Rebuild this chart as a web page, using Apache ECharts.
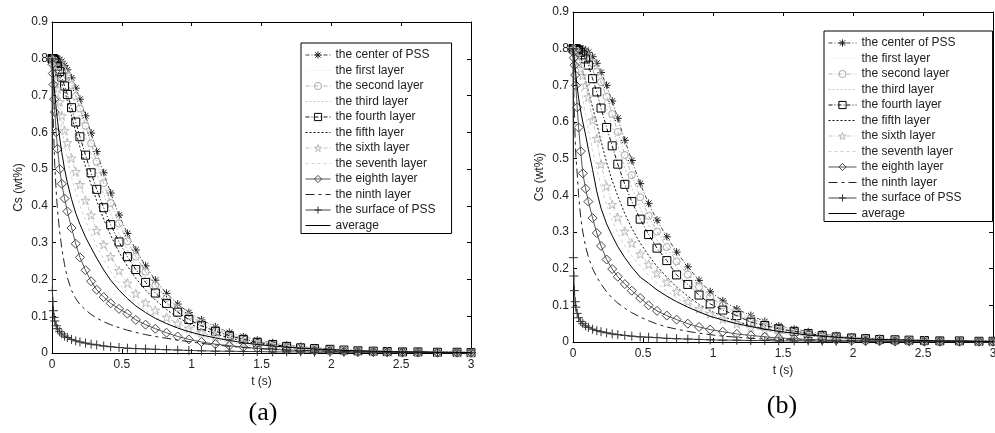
<!DOCTYPE html>
<html>
<head>
<meta charset="utf-8">
<title>Cs (wt%) against t (s)</title>
<script src="https://cdn.jsdelivr.net/npm/echarts@6/dist/echarts.min.js"></script>
<style>
  html, body { margin: 0; padding: 0; background: #fff; }
  #chart { width: 995px; height: 433px; }
</style>
</head>
<body>
<div id="chart"></div>
<script>
// time steps (s), shared by every curve of both panels
const tSteps = [0, 0.003, 0.006, 0.01, 0.015, 0.02, 0.03, 0.04, 0.055, 0.07, 0.09, 0.11,
  0.14, 0.17, 0.2, 0.24, 0.28, 0.32, 0.37, 0.42, 0.48, 0.54, 0.6, 0.67,
  0.74, 0.82, 0.9, 0.98, 1.07, 1.17, 1.27, 1.37, 1.47, 1.58, 1.68, 1.78,
  1.88, 1.99, 2.09, 2.19, 2.3, 2.4, 2.51, 2.62, 2.76, 2.9, 3.0];

const xTicks = [0, 0.5, 1, 1.5, 2, 2.5, 3];
const yTicks = [0, 0.1, 0.2, 0.3, 0.4, 0.5, 0.6, 0.7, 0.8, 0.9];

const layerNames = ['the center of PSS', 'the first layer', 'the second layer', 'the third layer',
  'the fourth layer', 'the fifth layer', 'the sixth layer', 'the seventh layer',
  'the eighth layer', 'the ninth layer', 'the surface of PSS', 'average'];

// panel (a), Cs in wt%
const aCenter = [.8, .8, .8, .8, .8, .8, .8, .8, .798, .793, .782, .77,
  .748, .72, .69, .645, .598, .548, .49, .435, .375, .325, .28, .237,
  .198, .162, .133, .11, .09, .071, .056, .044, .035, .028, .022, .018,
  .014, .011, .009, .007, .006, .005, .004, .003, .003, .002, .002];
const aFirst = [.8, .8, .8, .8, .8, .8, .8, .799, .796, .79, .778, .764,
  .74, .71, .678, .632, .584, .534, .476, .422, .364, .315, .271, .229,
  .191, .156, .128, .106, .087, .069, .054, .043, .034, .027, .021, .017,
  .013, .011, .009, .007, .006, .005, .004, .003, .003, .002, .002];
const aSecond = [.8, .8, .8, .8, .8, .8, .799, .797, .792, .785, .77, .754,
  .728, .698, .665, .618, .57, .52, .462, .408, .352, .304, .262, .221,
  .184, .15, .123, .101, .082, .065, .051, .04, .032, .025, .02, .016,
  .012, .01, .008, .007, .005, .004, .004, .003, .002, .002, .002];
const aThird = [.8, .8, .8, .8, .8, .799, .797, .793, .785, .774, .756, .736,
  .705, .672, .637, .588, .54, .49, .432, .38, .325, .279, .239, .201,
  .168, .138, .114, .094, .078, .062, .049, .039, .031, .024, .019, .015,
  .011, .009, .007, .006, .005, .004, .003, .003, .002, .002, .001];
const aFourth = [.8, .8, .8, .8, .799, .797, .79, .78, .765, .75, .726, .703,
  .667, .628, .588, .538, .49, .445, .395, .349, .302, .262, .227, .192,
  .163, .135, .111, .091, .074, .059, .047, .037, .029, .023, .018, .014,
  .012, .01, .008, .006, .005, .004, .003, .003, .002, .002, .001];
const aFifth = [.8, .8, .8, .8, .798, .795, .785, .772, .752, .732, .712, .686,
  .645, .602, .56, .507, .458, .414, .364, .32, .274, .236, .203, .171,
  .144, .118, .097, .08, .065, .052, .041, .032, .026, .02, .016, .013,
  .01, .008, .007, .005, .004, .004, .003, .002, .002, .001, .001];
const aSixth = [.8, .8, .798, .793, .783, .77, .742, .718, .683, .645, .605, .572,
  .53, .493, .458, .415, .375, .333, .295, .262, .224, .19, .162, .137,
  .116, .097, .081, .067, .055, .044, .035, .028, .022, .017, .014, .011,
  .009, .007, .006, .005, .004, .003, .003, .002, .002, .001, .001];
const aSeventh = [.8, .8, .795, .785, .77, .755, .722, .692, .65, .612, .567, .528,
  .478, .437, .402, .36, .323, .29, .254, .222, .19, .162, .139, .117,
  .098, .081, .067, .056, .045, .036, .029, .023, .018, .014, .011, .009,
  .007, .006, .005, .004, .003, .003, .002, .002, .001, .001, .001];
const aEighth = [.8, .785, .76, .73, .69, .655, .6, .555, .5, .46, .42, .385,
  .34, .297, .26, .225, .195, .172, .152, .135, .12, .107, .09, .077,
  .066, .055, .045, .037, .03, .024, .02, .016, .013, .01, .008, .007,
  .006, .005, .004, .003, .003, .002, .002, .002, .001, .001, .001];
const aNinth = [.8, .74, .68, .62, .56, .51, .44, .385, .33, .285, .24, .205,
  .17, .148, .132, .117, .105, .095, .085, .077, .069, .062, .056, .05,
  .045, .04, .035, .031, .026, .022, .018, .015, .012, .01, .008, .007,
  .006, .005, .004, .003, .003, .002, .002, .002, .001, .001, .001];
const aSurface = [.8, .17, .14, .115, .097, .087, .074, .066, .058, .052, .046, .042,
  .037, .033, .03, .027, .024, .022, .019, .017, .015, .013, .012, .011,
  .01, .009, .008, .007, .006, .005, .005, .004, .004, .003, .003, .003,
  .002, .002, .002, .002, .002, .001, .001, .001, .001, .001, .001];
const aAverage = [.8, .79, .775, .755, .728, .705, .665, .63, .585, .545, .5, .463,
  .418, .38, .35, .315, .286, .258, .226, .198, .171, .148, .128, .11,
  .094, .08, .068, .058, .049, .041, .034, .028, .023, .019, .016, .013,
  .011, .009, .007, .006, .005, .004, .003, .003, .002, .002, .001];

// panel (b), Cs in wt%
const bCenter = [.8, .8, .8, .8, .8, .8, .8, .8, .8, .799, .796, .79,
  .778, .76, .735, .7, .657, .61, .55, .495, .432, .378, .332, .287,
  .245, .205, .168, .137, .112, .09, .072, .056, .044, .035, .028, .022,
  .017, .013, .011, .009, .007, .006, .005, .004, .003, .002, .002];
const bFirst = [.8, .8, .8, .8, .8, .8, .8, .8, .799, .797, .792, .785,
  .77, .75, .723, .686, .641, .593, .532, .477, .415, .362, .318, .274,
  .233, .195, .159, .13, .106, .085, .068, .053, .042, .033, .026, .021,
  .016, .013, .01, .008, .007, .006, .005, .004, .003, .002, .002];
const bSecond = [.8, .8, .8, .8, .8, .8, .8, .799, .797, .794, .787, .778,
  .76, .738, .709, .669, .622, .573, .51, .455, .395, .344, .301, .259,
  .22, .184, .15, .123, .1, .08, .064, .05, .04, .031, .025, .02,
  .015, .012, .01, .008, .006, .005, .004, .004, .003, .002, .002];
const bThird = [.8, .8, .8, .8, .8, .8, .799, .797, .793, .788, .778, .765,
  .742, .715, .682, .637, .588, .538, .475, .422, .365, .318, .278, .24,
  .204, .17, .14, .114, .093, .075, .06, .047, .037, .029, .023, .018,
  .014, .011, .009, .007, .006, .005, .004, .003, .003, .002, .002];
const bFourth = [.8, .8, .8, .8, .8, .8, .798, .795, .79, .783, .772, .755,
  .718, .682, .638, .585, .535, .485, .43, .383, .335, .293, .256, .222,
  .183, .157, .128, .104, .087, .072, .054, .045, .036, .029, .023, .018,
  .014, .011, .009, .007, .006, .005, .004, .003, .003, .002, .002];
const bFifth = [.8, .8, .8, .8, .798, .795, .787, .776, .757, .738, .712, .684,
  .64, .595, .548, .49, .44, .398, .35, .31, .27, .236, .206, .177,
  .15, .125, .103, .085, .07, .056, .045, .036, .029, .023, .018, .014,
  .011, .009, .007, .006, .005, .004, .003, .003, .002, .002, .001];
const bSixth = [.8, .8, .8, .8, .797, .792, .78, .765, .745, .727, .7, .668,
  .605, .555, .485, .425, .375, .34, .302, .27, .24, .212, .188, .163,
  .138, .11, .091, .077, .063, .05, .04, .032, .025, .02, .016, .013,
  .01, .008, .006, .005, .004, .003, .003, .002, .002, .001, .001];
const bSeventh = [.8, .8, .798, .795, .79, .782, .76, .735, .7, .665, .62, .58,
  .522, .472, .425, .375, .332, .297, .262, .235, .207, .182, .16, .14,
  .121, .1, .084, .071, .059, .047, .038, .031, .025, .02, .016, .012,
  .01, .008, .006, .005, .004, .003, .003, .002, .002, .001, .001];
const bEighth = [.8, .79, .775, .755, .728, .7, .64, .585, .52, .46, .418, .383,
  .338, .297, .262, .225, .199, .178, .158, .14, .12, .1, .085, .072,
  .061, .05, .041, .034, .028, .022, .018, .014, .011, .009, .007, .006,
  .005, .004, .003, .003, .002, .002, .001, .001, .001, .001, .001];
const bNinth = [.8, .74, .68, .62, .56, .51, .46, .4, .34, .3, .26, .232,
  .2, .177, .158, .137, .12, .106, .092, .08, .068, .058, .049, .041,
  .035, .029, .024, .02, .016, .013, .01, .008, .007, .006, .005, .004,
  .003, .003, .002, .002, .002, .001, .001, .001, .001, .001, .001];
const bSurface = [.8, .23, .18, .14, .11, .095, .078, .066, .056, .05, .044, .04,
  .035, .031, .028, .025, .022, .02, .018, .016, .014, .013, .012, .01,
  .009, .008, .007, .006, .005, .005, .004, .004, .003, .003, .003, .002,
  .002, .002, .002, .002, .001, .001, .001, .001, .001, .001, .001];
const bAverage = [.8, .795, .785, .77, .75, .73, .695, .665, .63, .6, .565, .525,
  .47, .41, .365, .322, .29, .26, .23, .204, .177, .16, .142, .125,
  .11, .095, .082, .07, .06, .05, .042, .035, .029, .024, .019, .016,
  .013, .01, .008, .007, .006, .005, .004, .003, .003, .002, .002];

const panelA = [aCenter, aFirst, aSecond, aThird, aFourth, aFifth, aSixth, aSeventh, aEighth, aNinth, aSurface, aAverage];
const panelB = [bCenter, bFirst, bSecond, bThird, bFourth, bFifth, bSixth, bSeventh, bEighth, bNinth, bSurface, bAverage];

// marker outlines, matlab style (not filled)
const ASTERISK = 'path://M0,-5L0,5M-5,0L5,0M-3.6,-3.6L3.6,3.6M-3.6,3.6L3.6,-3.6';
const PLUS = 'path://M0,-5L0,5M-5,0L5,0';
const SQUARE = 'path://M-5,-5L5,-5L5,5L-5,5Z';
const DIAMOND = 'path://M0,-5L5,0L0,5L-5,0Z';
const STAR = 'path://M0,-5L1.12,-1.54L4.76,-1.55L1.81,0.59L2.94,4.05L0,1.9L-2.94,4.05L-1.81,0.59L-4.76,-1.55L-1.12,-1.54Z';
const DASHDOT = [4, 2, 1, 2];
const CLEAR = 'rgba(0,0,0,0)';

const looks = [
  { color: '#444', dash: DASHDOT, symbol: ASTERISK, size: 8, edge: '#222' },
  { color: '#f6f6f6', dash: 'solid', symbol: 'none' },
  { color: '#b4b4b4', dash: DASHDOT, symbol: 'circle', size: 7, edge: '#aaa' },
  { color: '#c4c4c4', dash: [2, 2], symbol: 'none' },
  { color: '#111', dash: DASHDOT, symbol: SQUARE, size: 8, edge: '#000' },
  { color: '#111', dash: [2, 2], symbol: 'none' },
  { color: '#c4c4c4', dash: DASHDOT, symbol: STAR, size: 9, edge: '#bbb' },
  { color: '#d0d0d0', dash: [3, 3], symbol: 'none' },
  { color: '#555', dash: 'solid', symbol: DIAMOND, size: 9, edge: '#444' },
  { color: '#222', dash: [9, 4, 3, 4], symbol: 'none' },
  { color: '#444', dash: 'solid', symbol: PLUS, size: 9, edge: '#333' },
  { color: '#000', dash: 'solid', symbol: 'none' }
];

function buildSeries(values, axisIndex) {
  return values.map((vals, i) => {
    const look = looks[i];
    return {
      name: layerNames[i],
      type: 'line',
      xAxisIndex: axisIndex,
      yAxisIndex: axisIndex,
      data: tSteps.map((t, k) => [t, vals[k]]),
      symbol: look.symbol,
      symbolSize: look.size || 0,
      showAllSymbol: true,
      lineStyle: { color: look.color, width: 1, type: look.dash },
      // plain lines get an invisible legend marker
      itemStyle: { color: CLEAR, borderColor: look.edge || CLEAR, borderWidth: look.edge ? 1 : 0 },
      emphasis: { disabled: true },
      z: 2 + i
    };
  });
}

function frameAxis(kind, gridIndex, position, showLabels, name) {
  const isX = kind === 'x';
  return {
    type: 'value',
    gridIndex: gridIndex,
    position: position,
    min: isX ? xTicks[0] : yTicks[0],
    max: isX ? xTicks[xTicks.length - 1] : yTicks[yTicks.length - 1],
    interval: isX ? 0.5 : 0.1,
    axisLine: { show: true, onZero: false, lineStyle: { color: '#000', width: 1 } },
    axisTick: { show: true, inside: true, length: 4, lineStyle: { color: '#000' } },
    axisLabel: { show: showLabels, color: '#222', fontSize: 12, margin: isX ? 6 : 4 },
    splitLine: { show: false },
    name: name || '',
    nameLocation: 'middle',
    nameGap: isX ? 23 : 27,
    nameTextStyle: { color: '#222', fontSize: 12 }
  };
}

function legendBox(left, top, padding, itemWidth) {
  return {
    left: left,
    top: top,
    orient: 'vertical',
    data: layerNames,
    selectedMode: false,
    backgroundColor: '#fff',
    borderColor: '#000',
    borderWidth: 1,
    borderRadius: 0,
    padding: padding,
    itemGap: 1.5,
    itemWidth: itemWidth,
    itemHeight: 9,
    itemStyle: { borderWidth: 1 },
    lineStyle: { width: 1 },
    textStyle: { color: '#222', fontSize: 12, lineHeight: 14, fontFamily: 'Liberation Sans' }
  };
}

const chart = echarts.init(document.getElementById('chart'), null, { renderer: 'canvas' });

chart.setOption({
  animation: false,
  backgroundColor: '#fff',
  textStyle: { fontFamily: 'Liberation Sans' },
  grid: [
    { left: 52, top: 22, width: 419, height: 331, outerBoundsMode: 'none' },
    { left: 573, top: 12, width: 420, height: 330, outerBoundsMode: 'none' }
  ],
  xAxis: [
    frameAxis('x', 0, 'bottom', true, 't (s)'),
    frameAxis('x', 0, 'top', false),
    frameAxis('x', 1, 'bottom', true, 't (s)'),
    frameAxis('x', 1, 'top', false)
  ],
  yAxis: [
    frameAxis('y', 0, 'left', true, 'Cs (wt%)'),
    frameAxis('y', 0, 'right', false),
    frameAxis('y', 1, 'left', true, 'Cs (wt%)'),
    frameAxis('y', 1, 'right', false)
  ],
  legend: [
    legendBox(301, 43, [5, 16, 1, 4], 25),
    legendBox(824, 31, [5, 31, 1, 4], 28)
  ],
  series: buildSeries(panelA, 0).concat(buildSeries(panelB, 2)),
  graphic: [
    { type: 'text', x: 263, y: 413, style: { text: '(a)', fontSize: 26, fontFamily: 'Liberation Serif', fill: '#000', align: 'center', verticalAlign: 'middle' } },
    { type: 'text', x: 782, y: 406, style: { text: '(b)', fontSize: 26, fontFamily: 'Liberation Serif', fill: '#000', align: 'center', verticalAlign: 'middle' } }
  ]
});
</script>
</body>
</html>
